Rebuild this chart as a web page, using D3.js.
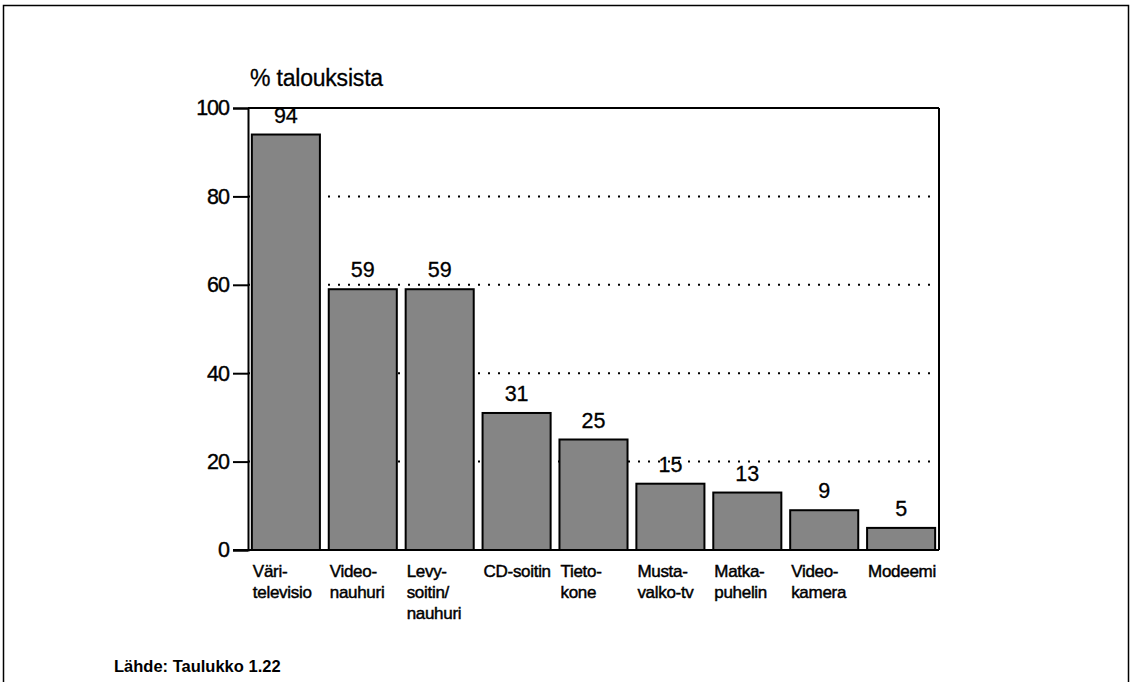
<!DOCTYPE html>
<html><head><meta charset="utf-8">
<script src="https://cdn.jsdelivr.net/npm/d3@7"></script>
<style>
body{margin:0;background:#fff;}
text{font-family:"Liberation Sans",Arial,Helvetica,sans-serif;fill:#000;}
</style></head>
<body>
<svg id="c" width="1133" height="682"></svg>
<script>
const categories = [["Väri-","televisio"],["Video-","nauhuri"],["Levy-","soitin/","nauhuri"],["CD-soitin"],["Tieto-","kone"],["Musta-","valko-tv"],["Matka-","puhelin"],["Video-","kamera"],["Modeemi"]];
const values = [94,59,59,31,25,15,13,9,5];
const yTicks = [0,20,40,60,80,100];
const gridTicks = [20,40,60,80];
const yTitle = "% talouksista";
const source = "Lähde: Taulukko 1.22";

const svg = d3.select("#c");
const L = 248, R = 939, T = 108, B = 550;

// outer frame
svg.append("rect").attr("x",3.5).attr("y",5.5).attr("width",1125).attr("height",700)
  .attr("fill","none").attr("stroke","#000").attr("stroke-width",1.5);

const x = d3.scaleBand().domain(d3.range(values.length)).range([L,R]).paddingInner(0.115).paddingOuter(0.05);
const y = d3.scaleLinear().domain([0,100]).range([B,T]);

// dotted gridlines
svg.append("g").selectAll("line").data(gridTicks).join("line")
  .attr("x1",L).attr("x2",R).attr("y1",d=>y(d)).attr("y2",d=>y(d))
  .attr("stroke","#000").attr("stroke-width",2).attr("stroke-dasharray","2,8");

// bars
svg.append("g").selectAll("rect").data(values).join("rect")
  .attr("x",(d,i)=>x(i)).attr("width",x.bandwidth())
  .attr("y",d=>y(d)).attr("height",d=>B-y(d))
  .attr("fill","#858585").attr("stroke","#000").attr("stroke-width",2);

// top & right frame of plot
svg.append("line").attr("x1",L).attr("x2",R).attr("y1",T).attr("y2",T).attr("stroke","#000").attr("stroke-width",2);
svg.append("line").attr("x1",R).attr("x2",R).attr("y1",T).attr("y2",B).attr("stroke","#000").attr("stroke-width",2);

// y axis
const yAxis = d3.axisLeft(y).tickValues(yTicks).tickSize(15).tickPadding(4);
const gy = svg.append("g").attr("transform",`translate(${L},0)`).call(yAxis);
gy.select(".domain").attr("stroke-width",2);
gy.selectAll(".tick line").attr("stroke-width",2);
gy.selectAll(".tick text").attr("font-size",21.5).style("font-family","Liberation Sans, Arial, sans-serif")
  .attr("fill","#000").attr("stroke","#000").attr("stroke-width",0.4).attr("letter-spacing",-1);

// x baseline
svg.append("line").attr("x1",L-15).attr("x2",R).attr("y1",B).attr("y2",B).attr("stroke","#000").attr("stroke-width",2);

// value labels
svg.append("g").selectAll("text").data(values).join("text")
  .attr("x",(d,i)=>x(i)+x.bandwidth()/2).attr("y",d=>y(d)-12)
  .attr("text-anchor","middle").attr("font-size",21.5).attr("stroke","#000").attr("stroke-width",0.3).text(d=>d);

// category labels
const cg = svg.append("g").selectAll("text").data(categories).join("text")
  .attr("x",(d,i)=>x(i)+1).attr("y",577).attr("font-size",17).attr("stroke","#000").attr("stroke-width",0.45).attr("letter-spacing",-0.3);
cg.selectAll("tspan").data(d=>d).join("tspan")
  .attr("x",function(){return this.parentNode.getAttribute("x");})
  .attr("dy",(d,i)=>i===0?0:21).text(d=>d);

// y title
svg.append("text").attr("x",250).attr("y",86).attr("font-size",23).attr("stroke","#000").attr("stroke-width",0.3).attr("letter-spacing",-0.2).text(yTitle);

// source
svg.append("text").attr("x",114).attr("y",672).attr("font-size",16.5).attr("font-weight","bold").text(source);
</script>
</body></html>
